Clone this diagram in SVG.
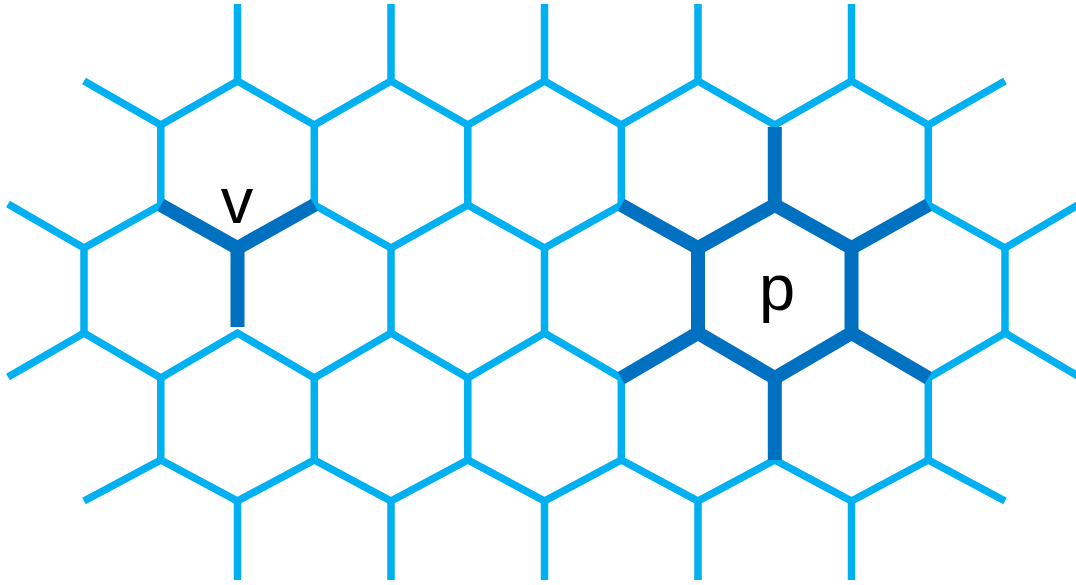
<svg xmlns="http://www.w3.org/2000/svg" width="1076" height="585" viewBox="0 0 1076 585">
  <style>
    .lt { fill: none; stroke: #00B0F0; stroke-width: 7.5; stroke-linecap: butt; stroke-linejoin: miter; }
    .dk { fill: none; stroke: #0070C0; stroke-width: 14; stroke-linecap: butt; stroke-linejoin: miter; }
    .lbl { font-family: "Liberation Sans", Arial, sans-serif; font-size: 65px; fill: #000000; text-anchor: middle; }
  </style>
  <rect width="1076" height="585" fill="#ffffff"/>
  <g id="connectors">
    <g id="lattice" class="lt">
      <!-- top stubs -->
      <path d="M237.5 81 V4 M391 81 V4 M544.5 81 V4 M698 81 V4 M851.5 81 V4"/>
      <!-- row A-B zigzag -->
      <path d="M84 81 L160.8 125 L237.5 81 L314.3 125 L391 81 L467.8 125 L544.5 81 L621.3 125 L698 81 L774.8 125 L851.5 81 L928.3 125 L1005 81"/>
      <!-- verticals B-C -->
      <path d="M160.8 125 V205 M314.3 125 V205 M467.8 125 V205 M621.3 125 V205 M928.3 125 V205"/>
      <!-- row C-D zigzag -->
      <path d="M8 204 L84 248 L160.8 205"/>
      <path d="M314.3 205 L391 248 L467.8 205 L544.5 248 L621.3 205"/>
      <path d="M928.3 205 L1005 248 L1078 205"/>
      <!-- verticals D-E -->
      <path d="M84 248 V333 M391 248 V333 M544.5 248 V333 M1005 248 V333"/>
      <!-- row E-F zigzag -->
      <path d="M8 377 L84 333 L160.8 378 L237.5 333 L314.3 378 L391 333 L467.8 378 L544.5 333 L621.3 378"/>
      <path d="M928.3 378 L1005 333 L1078 376"/>
      <!-- verticals F-G -->
      <path d="M160.8 378 V460 M314.3 378 V460 M467.8 378 V460 M621.3 378 V460 M928.3 378 V460"/>
      <!-- row G-H zigzag -->
      <path d="M84 501 L160.8 460 L237.5 501 L314.3 460 L391 501 L467.8 460 L544.5 501 L621.3 460 L698 501 L774.8 460 L851.5 501 L928.3 460 L1005 501"/>
      <!-- bottom stubs -->
      <path d="M237.5 501 V580 M391 501 V580 M544.5 501 V580 M698 501 V580 M851.5 501 V580"/>
    </g>
    <g id="highlight-v" class="dk">
      <path d="M160.8 205 L237.5 248 L314.3 205"/>
      <path d="M237.5 250 V327"/>
    </g>
    <g id="highlight-p" class="dk">
      <path d="M774.8 205 L851.5 248 L851.5 333 L774.8 378 L698 333 L698 248 Z"/>
      <path d="M774.8 127 V205 M774.8 378 V460"/>
      <path d="M621.3 205 L698 248 M928.3 205 L851.5 248 M621.3 378 L698 333 M928.3 378 L851.5 333"/>
    </g>
  </g>
  <g id="node-v">
    <text class="lbl" x="237" y="223">v</text>
  </g>
  <g id="node-p">
    <text class="lbl" x="777" y="310">p</text>
  </g>
</svg>
